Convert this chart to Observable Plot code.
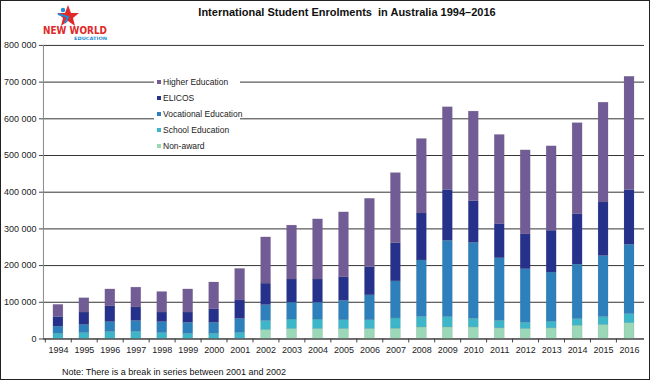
<!DOCTYPE html>
<html>
<head>
<meta charset="utf-8">
<script src="https://cdn.jsdelivr.net/npm/d3@7"></script>
<script src="https://cdn.jsdelivr.net/npm/@observablehq/plot@0.6"></script>
<style>
  html, body { margin: 0; padding: 0; background: #fff; }
  #wrap { position: relative; width: 650px; height: 380px; box-sizing: border-box; border: 1px solid #222; overflow: hidden; font-family: "Liberation Sans", Arial, sans-serif; }
  #chart { position: absolute; left: -1px; top: -1px; }
  #title { position: absolute; left: 10px; width: 672px; top: 5px; text-align: center; font-weight: bold; font-size: 11px; color: #111; white-space: pre; }
  #note { position: absolute; left: 61px; top: 366px; font-size: 9px; color: #111; }
  #legend { position: absolute; left: 153px; top: 74px; width: 86px; height: 78px; background: #fff; font-size: 8.5px; color: #222; }
  #legend div { position: absolute; left: 3px; height: 10px; line-height: 10px; white-space: nowrap; }
  #legend span { display: inline-block; width: 4px; height: 4px; margin-right: 2px; vertical-align: 1px; }
  #logo { position: absolute; left: 40px; top: 2px; width: 70px; height: 40px; }
</style>
</head>
<body>
<div id="wrap">
  <div id="chart"></div>
  <div id="title">International Student Enrolments  in Australia 1994–2016</div>
  <div id="legend"></div>
  <svg id="logo" viewBox="0 0 70 40" width="70" height="40">
    <polygon points="27,2 30,10 38,10 32,15 34,23 27,18 20,23 22,15 16,10 24,10" fill="#e02a2a"/>
    <circle cx="22" cy="7" r="2.2" fill="#1e8fd6"/>
    <path d="M17,11 L27,14 L24,20" stroke="#1e8fd6" stroke-width="2" fill="none"/>
    <text x="2" y="31" font-family="DejaVu Sans Condensed, DejaVu Sans" font-weight="bold" font-size="10.5" fill="#e02a2a" textLength="64" lengthAdjust="spacingAndGlyphs">NEW WORLD</text>
    <text x="33" y="37" font-family="DejaVu Sans Condensed, DejaVu Sans" font-weight="bold" font-size="4.5" fill="#1e8fd6" textLength="33" lengthAdjust="spacingAndGlyphs">EDUCATION</text>
  </svg>
  <div id="note">Note: There is a break in series between 2001 and 2002</div>
</div>
<script>
const years = ["1994","1995","1996","1997","1998","1999","2000","2001","2002","2003","2004","2005","2006","2007","2008","2009","2010","2011","2012","2013","2014","2015","2016"];
const seriesNames = ["Higher Education","ELICOS","Vocational Education","School Education","Non-award"];
const seriesColors = ["#725c96","#26318c","#2d80bb","#3cb6c8","#9bd8b7"];
const yTicks = [0,100000,200000,300000,400000,500000,600000,700000,800000];

const nonAward = [0,0,0,0,0,0,0,0,24300,27000,27000,27000,27000,28000,31500,31500,31500,29000,27000,29000,36000,38000,43000];
const school = [14500,16000,19000,19000,16000,14000,14000,17000,24500,26000,26000,24000,24000,28000,28500,28000,23500,20000,17000,18000,18000,21500,24600];
const vocational = [19000,22000,27000,30000,30000,30000,30000,38000,43500,46000,46000,53000,68000,101000,154000,208000,207000,171000,146000,134000,148700,166500,189000];
const elicos = [26500,34000,43000,37000,26000,28000,37000,50000,58500,63000,63000,64000,77000,104000,128000,138500,113700,93500,95000,114000,137000,146000,149000];
const higher = [33000,39000,46000,54000,56000,63000,73000,86000,126000,147000,164000,177000,186000,191000,203000,225500,244000,242500,229000,230000,248400,272000,309000];

// stacking order bottom to top
const stackSeries = [
  ["Non-award", nonAward],
  ["School Education", school],
  ["Vocational Education", vocational],
  ["ELICOS", elicos],
  ["Higher Education", higher]
];
const data = [];
for (const [name, vals] of stackSeries) {
  years.forEach((yr, i) => data.push({year: yr, type: name, value: vals[i]}));
}

const fmt = d => d3.format(",")(d).replace(/,/g, " ");
const step = 604 / years.length;

const chart = Plot.plot({
  width: 650,
  height: 380,
  marginLeft: 43,
  marginRight: 5,
  marginTop: 45,
  marginBottom: 41,
  style: {fontFamily: "Liberation Sans, Arial, sans-serif", fontSize: "9px", color: "#222", background: "transparent"},
  x: {type: "band", domain: years, paddingInner: 0.62, paddingOuter: 0.31, label: null},
  y: {domain: [0, 800000], label: null},
  color: {domain: seriesNames, range: seriesColors},
  marks: [
    Plot.gridY(yTicks, {stroke: "#333", strokeOpacity: 1, strokeWidth: 1}),
    Plot.frame({anchor: "left", stroke: "#888"}),
    Plot.barY(data, {x: "year", y: "value", fill: "type", order: null, stroke: "#666", strokeOpacity: 0.25, strokeWidth: 0.5}),
    Plot.ruleY([0], {stroke: "#444"}),
    Plot.axisY(yTicks, {tickFormat: fmt, tickSize: 4, tickPadding: 3, stroke: "#444", fontSize: 9, label: null}),
    Plot.axisX({tickSize: 0, tickPadding: 8, fontSize: 9, label: null}),
    Plot.axisX({tickSize: 4, tickFormat: () => "", dx: -step / 2, stroke: "#444", label: null})
  ]
});
document.getElementById("chart").appendChild(chart);

const legend = document.getElementById("legend");
seriesNames.forEach((name, i) => {
  const row = document.createElement("div");
  row.style.top = (2 + i * 16) + "px";
  const sw = document.createElement("span");
  sw.style.background = seriesColors[i];
  row.appendChild(sw);
  row.appendChild(document.createTextNode(name));
  legend.appendChild(row);
});
</script>
</body>
</html>
